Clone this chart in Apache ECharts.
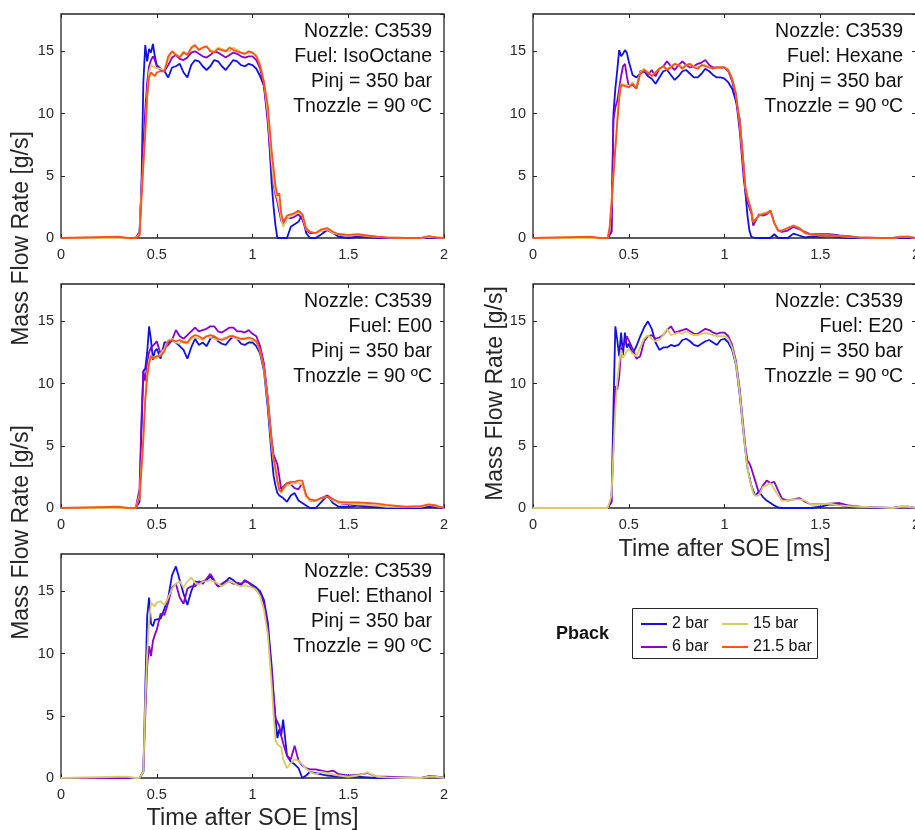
<!DOCTYPE html>
<html>
<head>
<meta charset="utf-8">
<script src="https://cdn.jsdelivr.net/npm/echarts@6/dist/echarts.min.js"></script>
<style>
  html, body { margin: 0; padding: 0; background: #ffffff; }
  #chart { width: 915px; height: 830px; }
</style>
</head>
<body>
<div id="chart"></div>
<script>
// Time after start of energizing [ms], shared by every trace
const timeMs = [
  0, 0.30, 0.35, 0.39,
  0.40, 0.41, 0.42, 0.43, 0.44, 0.45, 0.46, 0.47, 0.48, 0.49, 0.50,
  0.52, 0.54, 0.56, 0.58, 0.60, 0.62, 0.64, 0.66, 0.68, 0.70,
  0.72, 0.74, 0.76, 0.78, 0.80, 0.82, 0.84, 0.86, 0.88, 0.90,
  0.92, 0.94, 0.96, 0.98, 1.00, 1.02, 1.04, 1.06, 1.08, 1.10,
  1.11, 1.12, 1.13, 1.14, 1.15, 1.16,
  1.18, 1.20, 1.22, 1.24, 1.26, 1.28, 1.30,
  1.33, 1.36, 1.39, 1.42, 1.45,
  1.50, 1.55, 1.60, 1.65, 1.70,
  1.80, 1.88, 1.92, 1.96, 2.00
];

const backPressures = ['2 bar', '6 bar', '15 bar', '21.5 bar'];
const fuels = ['IsoOctane', 'Hexane', 'E00', 'E20', 'Ethanol'];
const nozzle = 'C3539';
const injPressure = '350 bar';
const nozzleTemp = '90 ºC';
const xTicks = [0, 0.5, 1, 1.5, 2];
const yTicks = [0, 5, 10, 15];

// Mass flow rate [g/s] — IsoOctane
const iso2 = [
  0, 0, 0, 0,
  0, 0.3, 4.0, 12.5, 15.5, 14.2, 15.2, 14.9, 15.6, 14.6, 13.9,
  13.6, 13.4, 12.9, 13.7, 13.8, 14.0, 13.3, 12.9, 13.9, 14.3,
  14.2, 13.8, 13.5, 13.8, 14.3, 14.2, 13.8, 13.5, 13.9, 14.3,
  14.2, 13.9, 13.8, 14.0, 13.9, 13.6, 13.0, 12.2, 9.8, 4.4,
  2.5, 1.0, 0, 0, 0, 0,
  0, 0.9, 1.1, 1.3, 1.9, 0.4, 0,
  0, 0.3, 0.65, 0.4, 0.1,
  0, 0.1, 0.05, 0, 0,
  0, 0, 0, 0, 0
];
const iso6 = [
  0, 0, 0, 0,
  0, 0.5, 4.0, 7.5, 10.3, 12.5, 13.8, 14.3, 14.6, 14.3, 13.8,
  13.5, 13.4, 13.9, 14.5, 14.7, 14.4, 14.3, 14.5, 14.9, 15.0,
  14.8, 14.6, 14.5, 14.7, 15.0, 14.9, 14.7, 14.5, 14.7, 14.9,
  14.8, 14.6, 14.5, 14.6, 14.6, 14.3, 13.6, 12.2, 9.2, 5.5,
  4.3, 3.5, 2.9, 2.1, 1.4, 1.1,
  1.6, 1.6, 1.7, 1.9, 1.5, 0.6, 0.4,
  0.4, 0.6, 0.65, 0.4, 0.3,
  0.2, 0.2, 0.1, 0.05, 0,
  0, 0, 0.1, 0, 0
];
const iso15 = [
  0, 0, 0, 0,
  0, 0.3, 3.5, 6.0, 8.5, 11.5, 13.3, 13.9, 14.0, 13.7, 13.6,
  13.6, 13.5, 14.3, 15.0, 14.8, 14.6, 15.0, 14.8, 15.2, 15.4,
  15.2, 15.3, 15.4, 15.1, 15.0, 15.3, 15.2, 15.1, 15.0, 15.3,
  15.1, 14.9, 14.8, 14.9, 14.9, 14.7, 14.0, 12.6, 10.0, 6.2,
  4.6, 3.7, 3.2, 2.5, 1.6, 0.9,
  1.5, 1.8, 1.9, 2.1, 1.8, 0.7, 0.5,
  0.4, 0.6, 0.7, 0.4, 0.3,
  0.2, 0.25, 0.15, 0.1, 0.05,
  0, 0, 0.1, 0.05, 0
];
const iso21 = [
  0, 0.1, 0, 0,
  0, 0.2, 3.0, 5.8, 8.4, 11.3, 12.9, 13.3, 13.2, 13.0, 13.3,
  13.4, 13.4, 14.6, 15.0, 14.7, 14.5, 14.9, 14.7, 15.3, 15.5,
  15.1, 15.3, 15.4, 15.0, 14.9, 15.2, 15.1, 15.0, 15.3, 15.1,
  15.0, 14.9, 14.8, 15.0, 14.9, 14.6, 13.8, 12.5, 10.6, 7.0,
  5.6, 4.2, 3.4, 3.6, 2.0, 1.3,
  1.8, 1.9, 2.0, 2.2, 1.9, 0.8, 0.5,
  0.4, 0.7, 0.8, 0.5, 0.3,
  0.25, 0.3, 0.2, 0.1, 0.05,
  0, 0, 0.15, 0.05, 0
];

// Mass flow rate [g/s] — Hexane
const hex2 = [
  0, 0, 0, 0,
  0, 0.5, 10.0, 12.0, 13.5, 15.1, 14.6, 14.8, 15.1, 14.9, 14.2,
  13.1, 12.9, 13.2, 13.4, 13.0, 12.8, 12.4, 12.9, 13.4, 13.5,
  13.1, 12.7, 13.0, 13.4, 13.5, 13.2, 12.9, 12.9, 13.2, 13.6,
  13.4, 13.1, 12.9, 12.9, 12.8, 12.5, 12.0, 11.0, 9.5, 5.8,
  3.5, 1.8, 0.6, 0.1, 0, 0,
  0, 0, 0, 0, 0.3, 0, 0,
  0, 0.35, 0.2, 0.05, 0.1,
  0.1, 0.15, 0.05, 0, 0,
  0, 0, 0, 0, 0
];
const hex6 = [
  0, 0, 0, 0,
  0, 0.5, 9.5, 10.5, 11.0, 12.0, 13.0, 13.8, 14.0, 13.0, 12.2,
  12.3, 12.0, 13.4, 13.5, 13.1, 13.5, 13.0, 13.6, 13.8, 14.2,
  13.8, 13.5, 13.9, 14.2, 13.9, 13.7, 13.8, 14.0, 14.1, 14.3,
  13.9, 13.7, 13.7, 13.7, 13.7, 13.4, 12.6, 11.2, 8.5, 4.8,
  3.6, 2.9, 3.0, 2.0, 1.0, 1.3,
  1.9, 1.8, 1.9, 2.2, 1.2, 0.6, 0.5,
  0.6, 0.9, 0.7, 0.5, 0.3,
  0.3, 0.3, 0.2, 0.15, 0.05,
  0, 0, 0.05, 0.05, 0
];
const hex15 = [
  0, 0, 0, 0,
  0.8, 2.8, 5.0, 7.3, 9.5, 11.4, 12.4, 12.5, 12.3, 12.2, 12.2,
  12.5, 12.1, 13.3, 13.6, 13.3, 13.1, 13.3, 13.6, 13.8, 13.6,
  13.8, 14.0, 13.9, 13.7, 13.9, 14.0, 13.8, 13.7, 13.9, 13.9,
  13.7, 13.6, 13.7, 13.7, 13.7, 13.5, 12.8, 11.6, 9.2, 5.8,
  4.0, 3.3, 3.2, 2.2, 1.3, 1.4,
  1.8, 2.0, 2.0, 2.2, 1.2, 0.6, 0.6,
  0.8, 1.0, 0.8, 0.4, 0.3,
  0.2, 0.2, 0.15, 0.1, 0.05,
  0, 0, 0.1, 0.1, 0
];
const hex21 = [
  0, 0.1, 0, 0,
  0.8, 2.8, 5.0, 7.2, 9.3, 11.2, 12.3, 12.4, 12.2, 12.2, 12.1,
  12.4, 12.0, 13.2, 13.5, 13.3, 13.0, 13.3, 13.6, 13.8, 13.5,
  13.7, 14.0, 13.9, 13.6, 13.9, 14.0, 13.7, 13.6, 13.9, 13.8,
  13.7, 13.6, 13.7, 13.7, 13.7, 13.5, 12.8, 11.6, 9.2, 5.8,
  4.0, 3.3, 3.2, 2.2, 1.3, 1.4,
  1.8, 1.9, 2.0, 2.2, 1.2, 0.6, 0.6,
  0.8, 1.0, 0.8, 0.4, 0.3,
  0.2, 0.2, 0.15, 0.1, 0.05,
  0, 0, 0.1, 0.1, 0
];

// Mass flow rate [g/s] — E00
const e00_2 = [
  0, 0, 0, 0,
  0, 0.5, 6.0, 11.0, 11.2, 12.5, 14.6, 13.5, 11.9, 12.6, 12.8,
  12.0, 13.3, 13.3, 13.5, 13.3, 13.0, 12.7, 12.0, 12.9, 13.6,
  13.1, 13.3, 13.0, 13.6, 13.8, 13.4, 13.2, 13.1, 13.5, 13.8,
  13.6, 13.2, 13.1, 13.3, 13.3, 13.0, 12.4, 11.0, 8.0, 4.2,
  2.6, 1.8, 1.2, 1.0, 0.9, 0.8,
  0.5, 1.0, 1.2, 0.6, 0.4, 0.2, 0,
  0, 0.5, 1.0, 0.4, 0.1,
  0.1, 0.2, 0.1, 0.05, 0,
  0, 0, 0.1, 0.05, 0
];
const e00_6 = [
  0, 0, 0, 0,
  0, 1.5, 7.0, 11.0, 10.2, 11.6, 12.5, 12.9, 12.9, 13.2, 13.4,
  12.4, 12.9, 13.1, 13.5, 14.3, 13.8, 13.6, 13.9, 14.2, 14.5,
  14.2, 14.3, 14.4, 14.6, 14.6, 14.2, 14.1, 14.3, 14.5, 14.5,
  14.2, 14.2, 14.1, 14.3, 14.0, 13.8, 13.0, 11.6, 8.8, 5.5,
  4.3, 4.3, 3.5, 2.5, 1.5, 1.7,
  2.0, 1.9, 1.6, 1.5, 2.0, 1.0, 0.6,
  0.6, 0.8, 1.0, 0.7, 0.4,
  0.3, 0.3, 0.2, 0.15, 0.1,
  0.05, 0.1, 0.25, 0.1, 0
];
const e00_15 = [
  0, 0, 0, 0,
  0, 1.0, 3.5, 5.8, 8.8, 10.8, 11.9, 12.3, 12.0, 12.2, 12.0,
  12.4, 12.8, 13.5, 13.6, 13.3, 13.2, 13.5, 13.2, 13.6, 13.7,
  13.6, 13.5, 13.8, 13.7, 13.6, 13.5, 13.6, 13.7, 13.8, 13.7,
  13.6, 13.5, 13.6, 13.6, 13.5, 13.3, 12.6, 11.2, 8.5, 5.0,
  3.8, 3.0, 2.0, 1.4, 1.2, 1.5,
  1.8, 1.9, 2.0, 2.0, 1.9, 0.9, 0.6,
  0.6, 0.8, 0.9, 0.6, 0.4,
  0.35, 0.3, 0.25, 0.2, 0.1,
  0.1, 0.1, 0.25, 0.15, 0
];
const e00_21 = [
  0, 0.1, 0, 0,
  0, 0.8, 3.0, 5.5, 8.7, 10.5, 11.6, 12.2, 12.0, 11.9, 12.2,
  12.2, 12.6, 13.4, 13.5, 13.4, 13.5, 13.3, 13.3, 13.7, 13.9,
  13.8, 13.6, 13.8, 13.9, 13.8, 13.6, 13.5, 13.6, 13.8, 13.8,
  13.7, 13.6, 13.6, 13.7, 13.6, 13.4, 12.7, 11.3, 8.7, 5.3,
  4.0, 3.2, 2.2, 1.5, 1.3, 1.6,
  2.0, 2.1, 2.1, 2.2, 2.2, 1.0, 0.7,
  0.6, 0.8, 0.9, 0.7, 0.5,
  0.45, 0.45, 0.4, 0.35, 0.25,
  0.1, 0.15, 0.3, 0.2, 0
];

// Mass flow rate [g/s] — E20 (no 21.5 bar trace)
const e20_2 = [
  0, 0, 0, 0,
  0, 0.5, 8.0, 14.6, 13.5, 12.2, 14.1, 12.3, 14.1, 12.9, 13.2,
  12.4, 13.0, 13.8, 14.5, 15.0, 14.4, 13.3, 12.7, 12.9, 12.9,
  13.1, 13.0, 13.1, 13.5, 13.6, 13.4, 13.1, 13.0, 13.2, 13.4,
  13.5, 13.3, 13.1, 13.5, 13.6, 13.3, 12.7, 11.5, 9.0, 5.9,
  4.5, 3.2, 2.5, 1.8, 1.4, 1.0,
  1.3, 0.9, 0.6, 0.4, 0.2, 0.05, 0,
  0, 0, 0, 0, 0,
  0.1, 0.3, 0.25, 0.1, 0.1,
  0, 0, 0.1, 0.1, 0
];
const e20_6 = [
  0, 0, 0, 0,
  0, 0.5, 5.0, 9.8, 9.5, 10.5, 12.7, 13.0, 13.2, 13.8, 13.9,
  12.8, 12.0, 12.2, 13.4, 13.8, 13.9, 13.6, 13.7, 13.9, 14.3,
  14.6, 14.1, 14.2, 14.3, 14.4, 14.2, 14.0, 14.0, 14.2, 14.4,
  14.3, 14.1, 14.0, 14.1, 14.1, 13.8, 13.1, 11.8, 9.5, 6.3,
  4.8, 3.8, 3.6, 3.2, 3.3, 2.2,
  1.2, 1.8, 2.2, 2.0, 2.1, 1.4, 0.75,
  0.6, 0.7, 0.8, 0.5, 0.3,
  0.3, 0.35, 0.4, 0.2, 0.1,
  0.05, 0, 0.05, 0.05, 0
];
const e20_15 = [
  0, 0, 0, 0,
  0, 1.0, 4.5, 7.9, 10.2, 11.6, 12.7, 12.1, 12.3, 12.6, 12.8,
  12.4, 12.2, 12.9, 13.6, 13.9, 13.6, 13.4, 13.5, 13.9, 14.4,
  13.9, 14.0, 14.1, 14.0, 14.2, 14.0, 13.9, 13.9, 14.0, 14.1,
  14.0, 13.9, 13.8, 13.8, 13.8, 13.6, 12.9, 11.6, 9.2, 6.0,
  4.5, 3.2, 2.4, 1.8, 1.2, 1.0,
  1.0, 1.7, 1.8, 2.0, 1.5, 1.0, 0.6,
  0.6, 0.7, 0.7, 0.6, 0.3,
  0.3, 0.35, 0.2, 0.15, 0.1,
  0.05, 0, 0.1, 0.1, 0
];

// Mass flow rate [g/s] — Ethanol (no 21.5 bar trace)
const eth2 = [
  0, 0, 0, 0,
  0, 0, 0, 0.5, 7.0, 13.0, 14.5, 12.4, 12.2, 12.7, 12.6,
  12.8, 13.6, 14.5, 16.3, 17.0, 15.9, 14.8, 13.9, 15.0, 15.8,
  15.7, 15.8, 15.9, 16.2, 15.8, 15.4, 15.5, 15.8, 16.1, 15.9,
  15.6, 15.5, 15.9, 15.7, 15.5, 15.3, 15.0, 14.3, 12.5, 9.0,
  6.8, 4.8, 3.2, 3.9, 3.4, 4.7,
  1.8, 1.3, 1.1, 0.8, 0, 0.2, 0.5,
  0.4, 0.3, 0.2, 0.15, 0.1,
  0.1, 0.1, 0.05, 0, 0,
  0, 0, 0.15, 0.1, 0
];
const eth6 = [
  0, 0, 0, 0,
  0, 0, 0, 0.5, 5.0, 9.0, 10.6, 9.8, 11.0, 11.5, 11.9,
  13.2, 13.1, 14.1, 15.3, 15.6, 14.5, 14.0, 15.2, 15.4, 15.4,
  15.8, 15.6, 16.0, 16.4, 15.9, 15.4, 15.6, 15.8, 15.8, 15.6,
  15.7, 15.6, 15.8, 15.7, 15.4, 15.1, 14.8, 14.0, 12.0, 8.5,
  6.5, 4.8, 4.7, 4.2, 3.4, 2.8,
  1.8, 1.5, 2.6, 1.4, 1.0, 0.8, 0.7,
  0.7, 0.6, 0.5, 0.6, 0.3,
  0.2, 0.25, 0.4, 0.1, 0.1,
  0.05, 0, 0.1, 0.1, 0
];
const eth15 = [
  0, 0.1, 0.1, 0,
  0, 0, 0, 0.5, 6.0, 10.0, 12.5, 14.1, 14.0, 13.8, 14.1,
  14.2, 13.9, 14.5, 15.2, 15.6, 15.8, 15.3, 15.8, 16.1, 15.7,
  15.5, 15.8, 15.8, 15.9, 15.8, 15.6, 15.4, 15.6, 15.8, 15.7,
  15.5, 15.4, 15.5, 15.4, 15.3, 15.1, 14.6, 13.5, 11.5, 7.5,
  5.1, 3.0, 2.7, 2.6, 2.5, 1.5,
  0.8, 1.2, 1.5, 1.4, 1.1, 0.75, 0.5,
  0.3, 0.5, 0.4, 0.3, 0.2,
  0.1, 0.2, 0.45, 0.1, 0.05,
  0, 0, 0.1, 0.1, 0
];

// One row per fuel, one entry per back pressure (null = not measured)
const traces = [
  [iso2, iso6, iso15, iso21],
  [hex2, hex6, hex15, hex21],
  [e00_2, e00_6, e00_15, e00_21],
  [e20_2, e20_6, e20_15, null],
  [eth2, eth6, eth15, null]
];

// ---- styling / layout ----
const lineColors = ['#1111dd', '#8800cc', '#d6cb6a', '#ff5219'];
const ink = '#262626';
const fontFamily = '"Liberation Sans", Arial, Helvetica, sans-serif';
const plotW = 383, plotH = 224;
const boxes = [
  { left: 61, top: 14 },
  { left: 533, top: 14 },
  { left: 61, top: 284 },
  { left: 533, top: 284 },
  { left: 61, top: 554 }
];

const grids = [], xAxes = [], yAxes = [], series = [], graphics = [];

boxes.forEach(b => {
  grids.push({
    left: b.left, top: b.top, width: plotW, height: plotH,
    containLabel: false, outerBoundsMode: 'none',
    show: true, borderColor: ink, borderWidth: 1.3, backgroundColor: 'transparent'
  });
});

function tickStyle() {
  return { show: true, inside: true, length: 4, lineStyle: { color: ink, width: 1 } };
}
function axisX(i, pos, labels) {
  return {
    type: 'value', gridIndex: i, position: pos,
    min: xTicks[0], max: xTicks[xTicks.length - 1], interval: xTicks[1] - xTicks[0],
    splitLine: { show: false },
    axisLine: { show: false, onZero: false },
    axisTick: tickStyle(),
    axisLabel: labels ? { color: ink, fontSize: 14.5, fontFamily, margin: 9 } : { show: false }
  };
}
function axisY(i, pos, labels) {
  return {
    type: 'value', gridIndex: i, position: pos,
    min: 0, max: 18, interval: yTicks[1] - yTicks[0],
    splitLine: { show: false },
    axisLine: { show: false, onZero: false },
    axisTick: tickStyle(),
    axisLabel: labels ? { color: ink, fontSize: 14.5, fontFamily, margin: 7, showMaxLabel: false } : { show: false }
  };
}

// bottom / left axes carry the labels; top / right only mirror the ticks of the box
boxes.forEach((b, i) => { xAxes.push(axisX(i, 'bottom', true)); yAxes.push(axisY(i, 'left', true)); });
boxes.forEach((b, i) => { xAxes.push(axisX(i, 'top', false)); yAxes.push(axisY(i, 'right', false)); });

traces.forEach((row, i) => {
  row.forEach((values, j) => {
    if (!values) return;
    series.push({
      type: 'line',
      name: backPressures[j],
      xAxisIndex: i, yAxisIndex: i,
      data: timeMs.map((t, k) => [t, values[k]]),
      symbol: 'none', showSymbol: false,
      lineStyle: { color: lineColors[j], width: 1.8 },
      itemStyle: { color: lineColors[j] },
      emphasis: { disabled: true },
      animation: false,
      z: 2 + j
    });
  });
});

// condition annotation in the upper-right corner of each panel
boxes.forEach((b, i) => {
  const rightEdge = b.left === 61 ? 432 : 903;
  graphics.push({
    type: 'text', x: rightEdge, y: b.top + 5, z: 10,
    style: {
      text: ['Nozzle: ' + nozzle, 'Fuel: ' + fuels[i], 'Pinj = ' + injPressure, 'Tnozzle = ' + nozzleTemp].join('\n'),
      align: 'right', verticalAlign: 'top', lineHeight: 25,
      font: '19.5px ' + fontFamily, fill: '#111111'
    }
  });
});

// axis titles
const yTitle = 'Mass Flow Rate [g/s]';
const xTitle = 'Time after SOE [ms]';
[[22, 238.5], [22, 532.5], [496, 393.5]].forEach(p => {
  graphics.push({
    type: 'text', x: p[0], y: p[1], rotation: Math.PI / 2,
    style: { text: yTitle, align: 'center', verticalAlign: 'middle', font: '23px ' + fontFamily, fill: ink }
  });
});
[[724.5, 549.5], [252.5, 819]].forEach(p => {
  graphics.push({
    type: 'text', x: p[0], y: p[1],
    style: { text: xTitle, align: 'center', verticalAlign: 'middle', font: '23.5px ' + fontFamily, fill: ink }
  });
});

// legend frame and title
graphics.push({
  type: 'rect', z: 0,
  shape: { x: 632.5, y: 608.5, width: 185, height: 50 },
  style: { fill: '#ffffff', stroke: ink, lineWidth: 1 }
});
graphics.push({
  type: 'text', x: 556, y: 634,
  style: { text: 'Pback', align: 'left', verticalAlign: 'middle', font: 'bold 18px ' + fontFamily, fill: '#111111' }
});

const legendCommon = {
  orient: 'vertical', top: 615, padding: 0, itemGap: 5,
  itemWidth: 26, itemHeight: 2, icon: 'rect', selectedMode: false, z: 5,
  textStyle: { fontSize: 16, fontFamily, color: '#111111', lineHeight: 18 }
};

const option = {
  backgroundColor: '#ffffff',
  animation: false,
  grid: grids,
  xAxis: xAxes,
  yAxis: yAxes,
  series: series,
  legend: [
    Object.assign({}, legendCommon, { left: 641, data: [backPressures[0], backPressures[1]] }),
    Object.assign({}, legendCommon, { left: 722, data: [backPressures[2], backPressures[3]] })
  ],
  graphic: graphics
};

const chart = echarts.init(document.getElementById('chart'), null, { renderer: 'canvas' });
chart.setOption(option);
</script>
</body>
</html>
